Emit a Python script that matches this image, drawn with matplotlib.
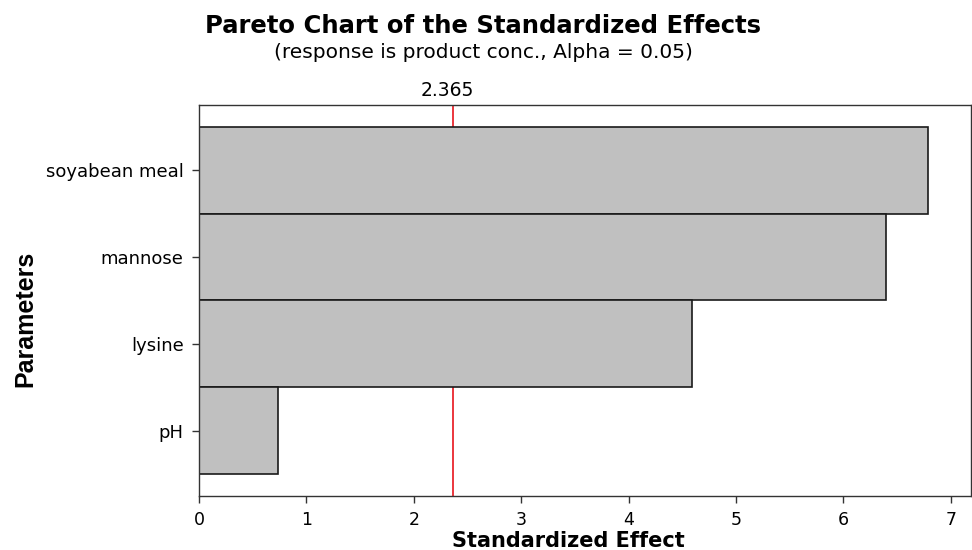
import matplotlib
matplotlib.use("Agg")
import matplotlib.pyplot as plt

# Effects, listed from largest to smallest
parameters = ["soyabean meal", "mannose", "lysine", "pH"]
effects = [6.79, 6.40, 4.59, 0.74]
critical_value = 2.365
x_ticks = [0, 1, 2, 3, 4, 5, 6, 7]

fig = plt.figure(figsize=(9.72, 5.5), dpi=100)
ax = fig.add_axes([0.2047, 0.0987, 0.7940, 0.7104])

positions = list(range(len(parameters)))[::-1]
ax.barh(positions, effects, height=1.0, left=0, color="#c0c0c0",
        edgecolor="#1a1a1a", linewidth=1.2, zorder=2)
ax.axvline(critical_value, color="#e8141c", linewidth=1.2, zorder=1)

ax.set_xlim(0, 7.185)
ax.set_ylim(-0.75, 3.75)
ax.set_xticks(x_ticks)
ax.set_xticklabels([str(t) for t in x_ticks], fontsize=12.5, fontweight="medium")
ax.set_yticks(positions)
ax.set_yticklabels(parameters, fontsize=13)
ax.tick_params(axis="both", length=5, width=1.0, color="#333333", pad=6)
for s in ax.spines.values():
    s.set_linewidth(1.0)
    s.set_color("#333333")

# critical value annotation above the plot area
ax.text(critical_value - 0.05, 1.012, f"{critical_value:.3f}",
        transform=ax.get_xaxis_transform(), ha="center", va="bottom", fontsize=13.5)

fig.text(0.497, 0.952, "Pareto Chart of the Standardized Effects", ha="center",
         va="center", fontsize=17.5, fontweight="bold")
fig.text(0.497, 0.905, "(response is product conc., Alpha = 0.05)", ha="center",
         va="center", fontsize=14.5)

fig.text(0.585, 0.016, "Standardized Effect", ha="center", va="center",
         fontsize=15, fontweight="bold")
fig.text(0.026, 0.42, "Parameters", ha="center", va="center", rotation=90,
         fontsize=18, fontweight="bold", family="Liberation Sans")

fig.savefig("out.png", dpi=100)
